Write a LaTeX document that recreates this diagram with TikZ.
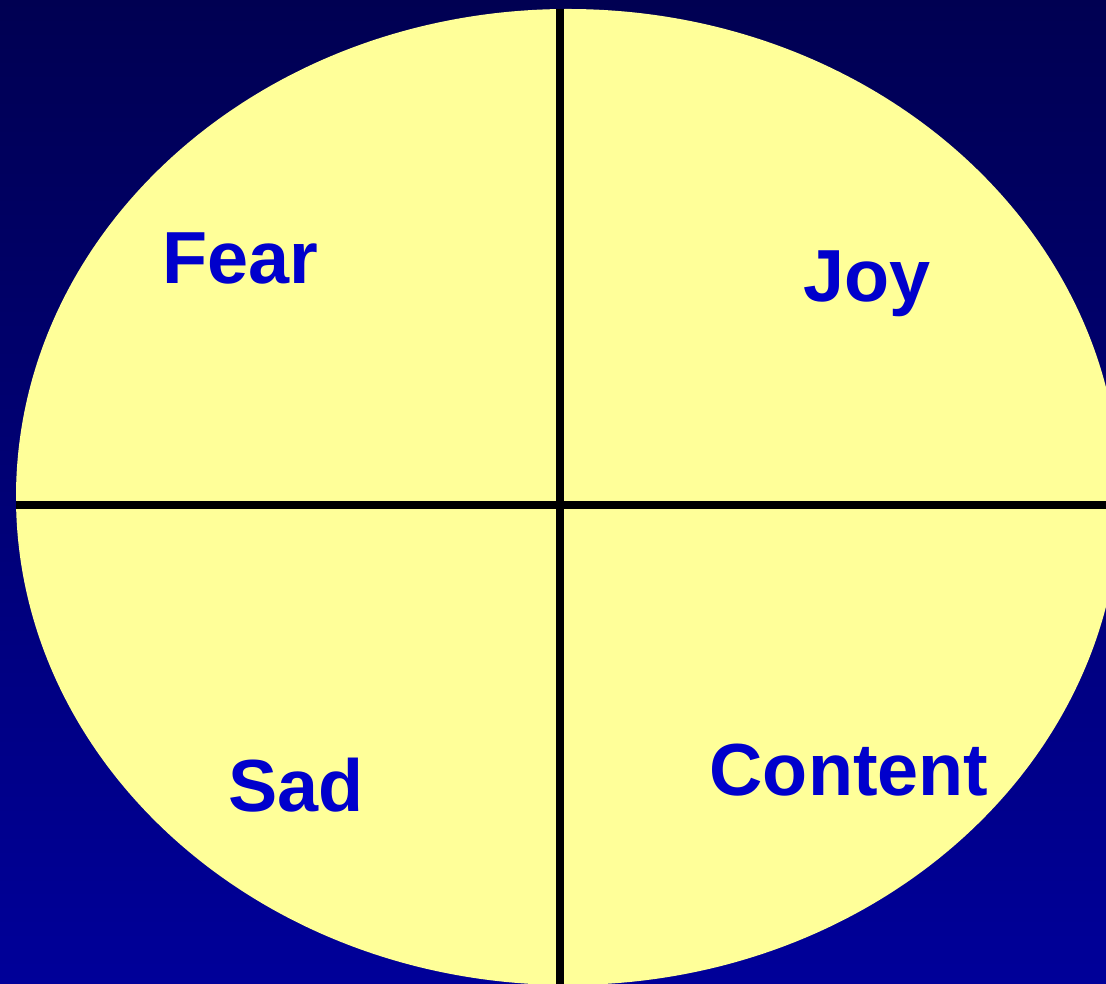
\documentclass[tikz,border=0pt]{standalone}
\usepackage{fontspec}
\setmainfont{Liberation Sans}
\usepackage{tikz}

\definecolor{skytop}{RGB}{0,0,82}
\definecolor{skymid}{RGB}{0,0,133}
\definecolor{skybot}{RGB}{0,0,153}
\definecolor{paleyellow}{RGB}{255,255,153}
\definecolor{labelblue}{RGB}{0,0,204}

\begin{document}
\begin{tikzpicture}[x=0.02cm, y=0.02cm, line join=round,
    mood/.style={anchor=base, text=labelblue, font=\fontsize{42}{48}\selectfont\bfseries}]
      \useasboundingbox (0,0) rectangle (1106,984);
      \clip (0,0) rectangle (1106,984);
      \shade[top color=skytop, middle color=skymid, bottom color=skybot] (0,0) rectangle (1106,984);

      \coordinate (C) at (568,487);
      \coordinate (T) at (560,975);
      \coordinate (B) at (560,-5);
      \coordinate (W) at (16,479);
      \coordinate (E) at (1110,479);

      \fill[paleyellow] (C) ellipse [x radius=552, y radius=488];

      \draw[line width=4.3pt] (W) -- (E);
      \draw[line width=4.3pt] (T) -- (B);

      \node[mood] (fear) at (240,700) {Fear};
      \node[mood] (joy) at (867,682) {Joy};
      \node[mood] (sad) at (296,172) {Sad};
      \node[mood] (content) at (849,188) {Content};
    \end{tikzpicture}
\end{document}
